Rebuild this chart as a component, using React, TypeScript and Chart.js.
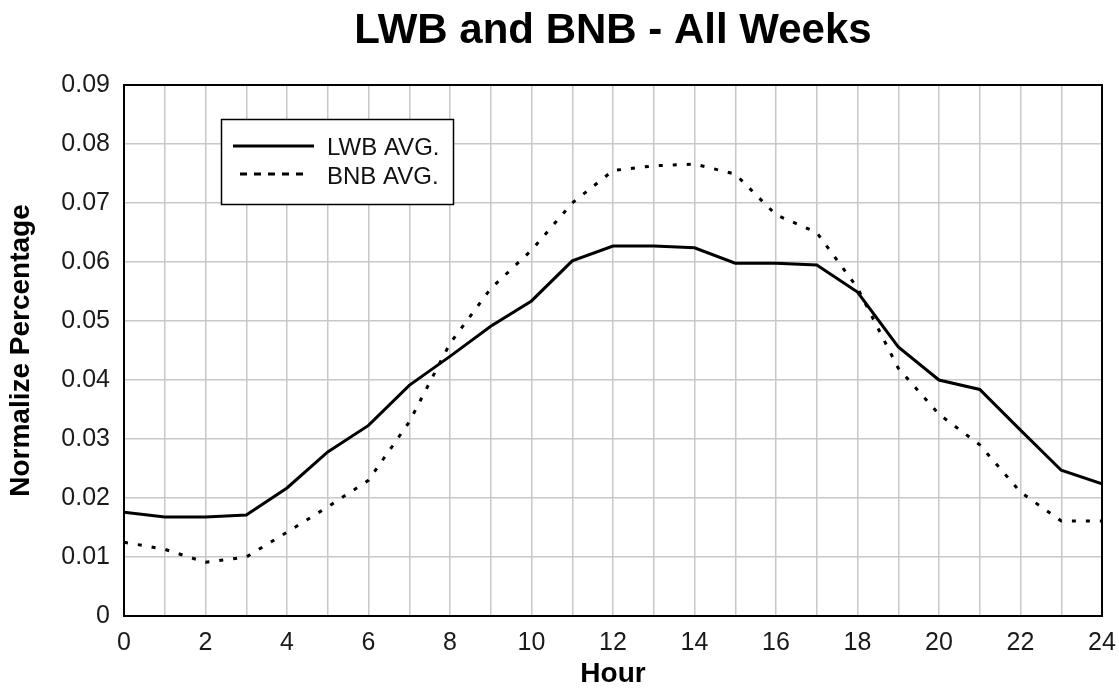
import React, { useEffect, useRef } from "react";
import { Chart, registerables } from "chart.js";

Chart.register(...registerables);

const titleText = "LWB and BNB - All Weeks";
const xTitle = "Hour";
const yTitle = "Normalize Percentage";
const seriesNames = ["LWB AVG.", "BNB AVG."];

const hours = [0, 1, 2, 3, 4, 5, 6, 7, 8, 9, 10, 11, 12, 13, 14, 15, 16, 17, 18, 19, 20, 21, 22, 23, 24];
const lwbAvg = [0.0176, 0.0168, 0.0168, 0.0171, 0.0217, 0.0278, 0.0323, 0.0391, 0.044, 0.0491, 0.0534, 0.0602, 0.0627, 0.0627, 0.0624, 0.0598, 0.0598, 0.0595, 0.0549, 0.0456, 0.04, 0.0384, 0.0315, 0.0247, 0.0224];
const bnbAvg = [0.0125, 0.0113, 0.0091, 0.01, 0.0142, 0.0185, 0.023, 0.0329, 0.0462, 0.0555, 0.062, 0.07, 0.0755, 0.0763, 0.0766, 0.0749, 0.068, 0.065, 0.0556, 0.042, 0.0342, 0.029, 0.021, 0.0161, 0.0161];

const W = 1119;
const H = 691;
const SANS = "'Liberation Sans', Arial, Helvetica, sans-serif";

const decorPlugin = {
  id: "decor",
  beforeDraw(chart: any) {
    const { ctx } = chart;
    ctx.save();
    ctx.fillStyle = "#ffffff";
    ctx.fillRect(0, 0, chart.width, chart.height);
    ctx.restore();
  },
  afterDraw(chart: any) {
    const { ctx, chartArea } = chart;
    const { left, right, top, bottom } = chartArea;
    ctx.save();
    // plot border
    ctx.strokeStyle = "#000000";
    ctx.lineWidth = 2;
    ctx.strokeRect(left, top, right - left, bottom - top);
    // title
    ctx.fillStyle = "#000000";
    ctx.font = `bold 42px ${SANS}`;
    ctx.textAlign = "center";
    ctx.textBaseline = "alphabetic";
    ctx.fillText(titleText, (left + right) / 2, 43);
    // legend box
    const bx = 221.5, by = 119.5, bw = 232, bh = 85;
    ctx.fillStyle = "#ffffff";
    ctx.fillRect(bx, by, bw, bh);
    ctx.strokeStyle = "#000000";
    ctx.lineWidth = 1.5;
    ctx.strokeRect(bx, by, bw, bh);
    // solid sample
    ctx.lineWidth = 3;
    ctx.setLineDash([]);
    ctx.beginPath();
    ctx.moveTo(233, 146);
    ctx.lineTo(314, 146);
    ctx.stroke();
    // dashed sample
    ctx.setLineDash([7, 7]);
    ctx.beginPath();
    ctx.moveTo(240, 174);
    ctx.lineTo(305, 174);
    ctx.stroke();
    ctx.setLineDash([]);
    ctx.fillStyle = "#111111";
    ctx.font = `24px ${SANS}`;
    ctx.textAlign = "left";
    ctx.fillText(seriesNames[0], 327, 155);
    ctx.fillText(seriesNames[1], 327, 184);
    ctx.restore();
  },
};

export default function App() {
  const ref = useRef<HTMLCanvasElement | null>(null);

  useEffect(() => {
    if (!ref.current) return;
    const chart = new Chart(ref.current, {
      type: "line",
      data: {
        datasets: [
          {
            label: seriesNames[0],
            data: hours.map((h, i) => ({ x: h, y: lwbAvg[i] })),
            borderColor: "#000000",
            borderWidth: 3,
            pointRadius: 0,
            tension: 0,
            fill: false,
          },
          {
            label: seriesNames[1],
            data: hours.map((h, i) => ({ x: h, y: bnbAvg[i] })),
            borderColor: "#000000",
            borderWidth: 3,
            borderDash: [4, 10],
            pointRadius: 0,
            tension: 0,
            fill: false,
          },
        ],
      },
      options: {
        responsive: false,
        animation: false,
        layout: { padding: { top: 85, right: 17, bottom: 0, left: 0 } },
        plugins: {
          legend: { display: false },
          title: { display: false },
          tooltip: { enabled: false },
        },
        scales: {
          x: {
            type: "linear",
            min: 0,
            max: 24,
            afterFit: (s: any) => {
              s.height = 75;
              s.paddingLeft = 0;
              s.paddingRight = 0;
            },
            ticks: {
              stepSize: 1,
              autoSkip: false,
              maxRotation: 0,
              padding: 12,
              color: "#1a1a1a",
              font: { family: SANS, size: 25 },
              callback: (v: any) => (Number(v) % 2 === 0 ? String(v) : ""),
            },
            grid: { color: "#c8c8c8", lineWidth: 1.5, drawTicks: false },
            border: { display: false },
            title: {
              display: true,
              text: xTitle,
              color: "#000000",
              font: { family: SANS, size: 28, weight: "bold" },
              padding: { top: 0, bottom: 0 },
            },
          },
          y: {
            type: "linear",
            min: 0,
            max: 0.09,
            afterFit: (s: any) => {
              s.width = 124;
              s.paddingTop = 0;
              s.paddingBottom = 0;
            },
            ticks: {
              stepSize: 0.01,
              padding: 14,
              color: "#1a1a1a",
              font: { family: SANS, size: 25 },
              callback: (v: any) => (Math.abs(Number(v)) < 1e-9 ? "0" : Number(v).toFixed(2)),
            },
            grid: { color: "#c8c8c8", lineWidth: 1.5, drawTicks: false },
            border: { display: false },
            title: {
              display: true,
              text: yTitle,
              color: "#000000",
              font: { family: SANS, size: 28, weight: "bold" },
              padding: { top: 4, bottom: 0 },
            },
          },
        },
      },
      plugins: [decorPlugin],
    });
    return () => chart.destroy();
  }, []);

  return (
    <div style={{ position: "absolute", left: 0, top: 0, width: W, height: H, background: "#fff" }}>
      <canvas ref={ref} width={W} height={H} style={{ display: "block", width: W, height: H }} />
    </div>
  );
}
